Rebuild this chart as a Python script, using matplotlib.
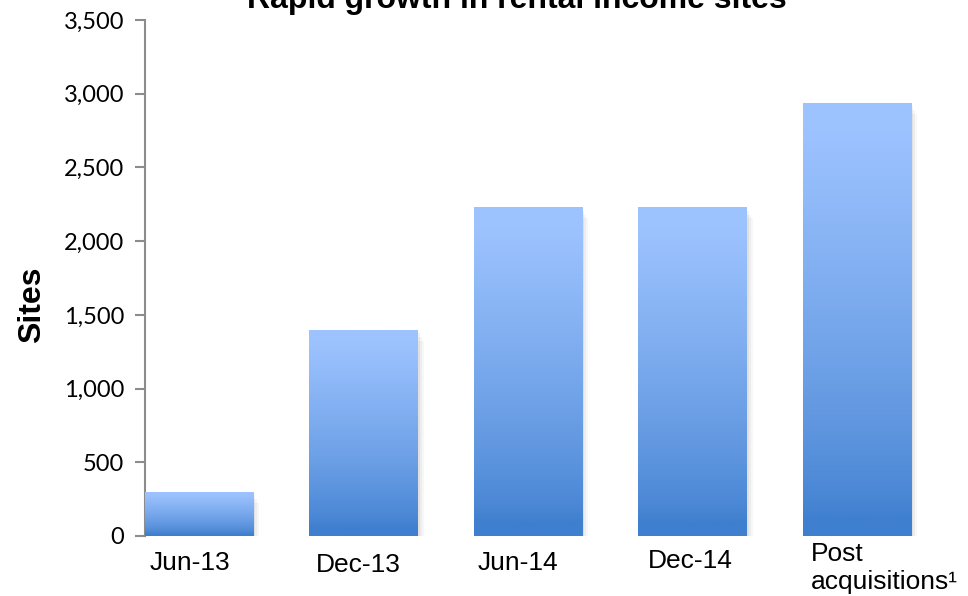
import numpy as np
import matplotlib
matplotlib.use("Agg")
import matplotlib.pyplot as plt
from matplotlib.colors import LinearSegmentedColormap
from matplotlib.patches import Rectangle
from matplotlib.transforms import blended_transform_factory

# Rental income sites by period
periods = ["Jun-13", "Dec-13", "Jun-14", "Dec-14", "Post\nacquisitions¹"]
sites = [300, 1400, 2230, 2230, 2940]
yticks = [0, 500, 1000, 1500, 2000, 2500, 3000, 3500]

TOP_COLOR = "#9dc3ff"
BOTTOM_COLOR = "#3f7fcf"
AXIS_GREY = "#8c8c8c"

W, H = 968, 596
fig = plt.figure(figsize=(W / 100, H / 100), dpi=100)
ax = fig.add_axes([145 / W, 60 / H, 823 / W, 516 / H])

x = np.arange(len(periods))
width = 0.66
bars = ax.bar(x, sites, width=width, color="none", edgecolor="none", zorder=3)

# vertical gradient inside each bar, light at the top
cmap = LinearSegmentedColormap.from_list("bar", [BOTTOM_COLOR, TOP_COLOR])
grad = np.linspace(0, 1, 256).reshape(-1, 1)
grad = np.clip((grad - 0.04) / 0.9, 0, 1) ** 0.75
for b in bars:
    x0, w, h = b.get_x(), b.get_width(), b.get_height()
    # soft drop shadow
    for i, a in enumerate([0.05, 0.04, 0.03]):
        d = 0.012 * (i + 1)
        ax.add_patch(Rectangle((x0 + d, -25 * (i + 1)), w, h, facecolor="black",
                               edgecolor="none", alpha=a, zorder=2))
    im = ax.imshow(grad, cmap=cmap, aspect="auto", origin="lower",
                   extent=(x0, x0 + w, 0, h), zorder=3)
    im.set_clip_path(b)

ax.set_xlim(-0.328, 4.675)
ax.set_ylim(0, 3500)
ax.set_yticks(yticks)
ax.set_yticklabels([f"{v:,}" for v in yticks], fontfamily="Lato", fontsize=17)
ax.set_xticks([])

for s in ["top", "right", "bottom"]:
    ax.spines[s].set_visible(False)
ax.spines["left"].set_color(AXIS_GREY)
ax.spines["left"].set_linewidth(1.5)
ax.tick_params(axis="y", direction="out", length=7, width=1.5, color=AXIS_GREY,
               pad=8, labelcolor="black")

# category labels sit at slightly different heights (baselines in pixels)
trans = blended_transform_factory(ax.transData, fig.transFigure)
label_x = [-0.054, 0.967, 1.939, 2.985, 3.717]
label_base = [570, 572, 570, 568, 561]
label_ha = ["center", "center", "center", "center", "left"]
for lx, ly, ha, name in zip(label_x, label_base, label_ha, periods):
    lines = name.split("\n")
    for k, line in enumerate(lines):
        ax.text(lx, 1 - (ly + 28 * k) / H, line, transform=trans, ha=ha,
                va="baseline", fontfamily="Liberation Sans", fontsize=19)

fig.text(32 / W, 1 - 305 / H, "Sites", rotation=90, ha="center", va="center",
         fontfamily="Liberation Sans", fontsize=23, fontweight="bold")

fig.text(517 / W, 1 - 8 / H, "Rapid growth in rental income sites",
         ha="center", va="baseline", fontfamily="Liberation Sans",
         fontsize=23, fontweight="bold")

fig.savefig("out.png", dpi=100)
